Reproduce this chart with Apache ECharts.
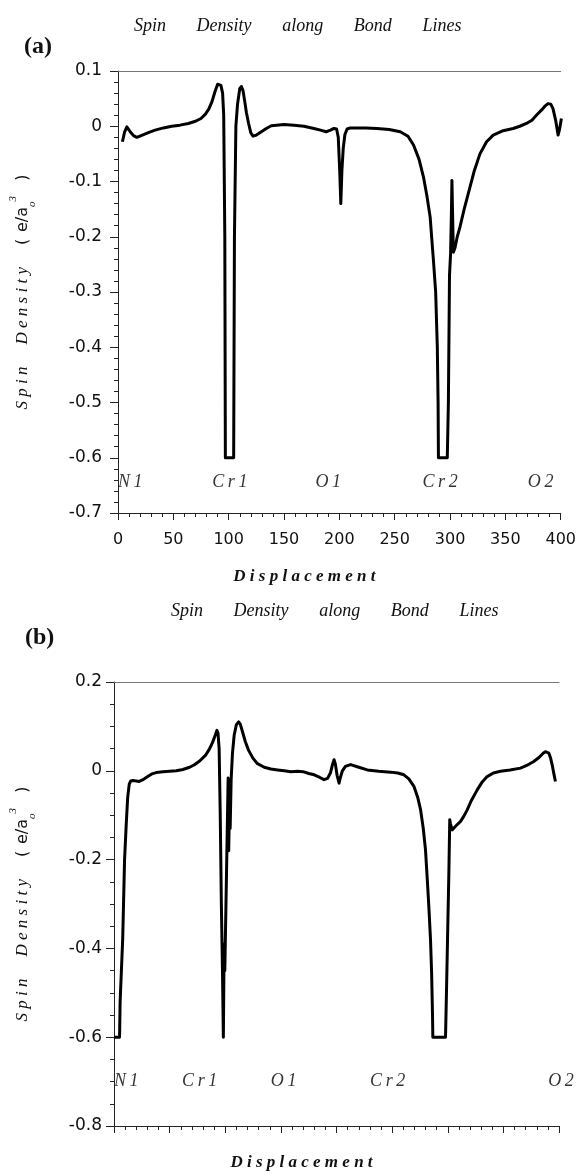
<!DOCTYPE html>
<html><head><meta charset="utf-8">
<script src="https://cdn.jsdelivr.net/npm/echarts@6/dist/echarts.min.js"></script>
<style>html,body{margin:0;padding:0;background:#fff}#c{width:579px;height:1174px}</style>
</head><body><div id="c"></div>
<script>
// ---------- Data ----------
// Panel (a)
const dispA = [4, 6, 8, 11, 14, 17, 22, 28, 33.5, 41, 48.5, 56, 63.5, 70, 75, 79, 82, 85, 87.5, 90, 91.5, 93, 94.5, 95.5, 96.5, 97, 104.5, 105.2, 106.5, 108, 110, 111.5, 113, 114.5, 116, 118, 120, 122, 125, 129.5, 134, 138.5, 150, 159, 168, 177, 183, 188, 192, 195, 197.5, 199, 200.3, 201.3, 202.3, 203.5, 205, 207, 210, 224, 234, 245, 255, 262, 267, 272, 276, 279, 282, 285, 287, 288.5, 289.2, 289.5, 297.5, 298.5, 299.5, 300.5, 301.2, 301.7, 302.3, 303, 304.5, 306.5, 309, 313, 318, 322, 327, 333, 339, 348, 357, 363, 369, 374, 378, 383, 386, 388.5, 391, 393, 395.5, 397.6, 399, 400.6];
const spinA = [-0.028, -0.01, -0.001, -0.01, -0.017, -0.02, -0.016, -0.011, -0.007, -0.003, 0, 0.002, 0.005, 0.009, 0.014, 0.022, 0.031, 0.045, 0.062, 0.076, 0.078, 0.074, 0.06, 0.02, -0.2, -0.6, -0.6, -0.2, 0.0, 0.04, 0.068, 0.072, 0.064, 0.045, 0.025, 0.005, -0.012, -0.018, -0.016, -0.01, -0.004, 0.001, 0.003, 0.002, 0.0, -0.004, -0.007, -0.01, -0.007, -0.004, -0.005, -0.02, -0.08, -0.14, -0.08, -0.04, -0.015, -0.005, -0.003, -0.003, -0.004, -0.006, -0.01, -0.018, -0.034, -0.06, -0.092, -0.125, -0.164, -0.243, -0.3, -0.4, -0.5, -0.6, -0.6, -0.5, -0.27, -0.23, -0.16, -0.098, -0.16, -0.228, -0.22, -0.2, -0.182, -0.148, -0.11, -0.08, -0.05, -0.028, -0.016, -0.008, -0.004, 0.0, 0.005, 0.011, 0.02, 0.03, 0.037, 0.041, 0.04, 0.032, 0.01, -0.016, -0.005, 0.014];

// Panel (b)
const dispB = [0, 5, 5.5, 7.8, 9.5, 11, 12.3, 13.7, 15, 17, 20, 22.7, 26, 30.3, 34, 38, 44, 50, 56, 62, 68, 72, 77, 82.6, 86, 88.6, 91, 92.5, 93.5, 94.5, 95.5, 96.5, 97.5, 98.3, 99, 99.6, 101, 102.6, 103.1, 103.8, 104.4, 105.3, 106.5, 108, 110, 112, 113.5, 115.5, 118, 121, 125, 129, 135, 141, 147, 153, 159, 165, 170, 175, 180, 185, 188.8, 192, 194.5, 196.5, 197.8, 199, 200.5, 202.3, 203.5, 205.3, 208, 212.7, 220, 227.7, 238, 248.7, 255, 260.6, 265, 269.6, 273, 275.6, 278, 280, 281.5, 283, 284.5, 285.5, 286.3, 286.6, 298, 299, 299.8, 301, 301.8, 302.5, 304, 307, 311.5, 314.5, 317.5, 321, 326.5, 331, 335.4, 341, 347.4, 356, 365.4, 371, 377.3, 382, 386, 387.8, 389.5, 390.8, 392.5, 393.8, 395.5, 396.8];
const spinB = [-0.6, -0.6, -0.52, -0.38, -0.2, -0.12, -0.06, -0.03, -0.023, -0.022, -0.023, -0.024, -0.02, -0.013, -0.007, -0.004, -0.002, -0.001, 0.0, 0.003, 0.008, 0.013, 0.022, 0.036, 0.05, 0.064, 0.08, 0.091, 0.085, 0.05, -0.1, -0.3, -0.45, -0.6, -0.39, -0.45, -0.25, -0.016, -0.18, -0.08, -0.13, -0.02, 0.04, 0.08, 0.104, 0.11, 0.105, 0.088, 0.066, 0.046, 0.028, 0.016, 0.008, 0.004, 0.002, 0.0, -0.002, -0.001, -0.002, -0.006, -0.009, -0.015, -0.02, -0.017, -0.005, 0.015, 0.025, 0.015, -0.01, -0.028, -0.015, 0.0, 0.01, 0.014, 0.008, 0.002, -0.001, -0.003, -0.005, -0.009, -0.018, -0.035, -0.06, -0.088, -0.13, -0.178, -0.24, -0.306, -0.38, -0.456, -0.55, -0.6, -0.6, -0.48, -0.38, -0.23, -0.11, -0.12, -0.133, -0.125, -0.114, -0.102, -0.088, -0.068, -0.043, -0.025, -0.013, -0.005, -0.001, 0.002, 0.006, 0.012, 0.021, 0.03, 0.04, 0.043, 0.043, 0.04, 0.028, 0.014, -0.008, -0.024];

// Atom labels along the bond path
const atomNames = ['N1', 'Cr1', 'O1', 'Cr2', 'O2'];
const atomPosA = [0, 101, 190, 291, 380];
const atomPosB = [0, 77, 152.5, 246, 400];
const atomRowA = -0.645;
const atomRowB = -0.70;

const titleText = 'Spin Density along Bond Lines';
const panelTags = ['(a)', '(b)'];
const xName = 'Displacement';

// ---------- Helpers ----------
const serif = "'Liberation Serif','Times New Roman',serif";
const sans = "'DejaVu Sans','Verdana',sans-serif";
const THIN = '\u2009', HAIR = '\u200a';
const spaced = (s, sep) => s.split('').join(sep);
const spacedTitle = titleText.split(' ').join('\u2003\u2002\u2009');

function pairs(xs, ys) { return xs.map((x, i) => [x, ys[i]]); }
function atomData(pos, row) {
  return atomNames.map((n, i) => ({
    value: [pos[i], row],
    name: n,
    label: i === 0 ? { align: 'left' } : (i === atomNames.length - 1 ? { align: 'center', offset: [2, 0] } : { align: 'center' })
  }));
}

const yNameRich = {
  it: { fontFamily: serif, fontStyle: 'italic', fontSize: 17, color: '#111', lineHeight: 30 },
  g: { width: 22, fontSize: 17, lineHeight: 30 },
  sf: { fontFamily: sans, fontSize: 16, color: '#111', lineHeight: 30 },
  sub: { fontFamily: serif, fontStyle: 'italic', fontSize: 11, color: '#111', lineHeight: 12, verticalAlign: 'bottom' },
  sup: { fontFamily: serif, fontStyle: 'italic', fontSize: 11, color: '#111', lineHeight: 12, verticalAlign: 'top' }
};
const yName = '{it|' + spaced('Spin', ' ') + '}{g| }{it|' + spaced('Density', ' ') + '}{g| }{sf|(' + HAIR + ' e/a}{sub|o}{sup|3}{sf|' + '   )}';

const axisLineStyle = { color: '#222', width: 1 };

function xAxes(gridIndex, showLabels, nameGap) {
  return [{
    type: 'value', gridIndex, min: 0, max: 400, interval: 50,
    axisLine: { show: true, onZero: false, lineStyle: axisLineStyle },
    axisTick: { show: true, length: 7, lineStyle: axisLineStyle },
    minorTick: { show: true, splitNumber: 5, length: 4, lineStyle: axisLineStyle },
    splitLine: { show: false },
    axisLabel: { show: showLabels, margin: 19, fontFamily: sans, fontSize: 16, color: '#111' },
    name: spaced(xName, ' '), nameLocation: 'middle', nameGap,
    nameTextStyle: { fontFamily: serif, fontStyle: 'italic', fontWeight: 'bold', fontSize: 17, color: '#111', padding: [0, 70, 0, 0] }
  }, {
    type: 'value', gridIndex, position: 'top', min: 0, max: 400,
    axisLine: { show: true, onZero: false, lineStyle: { color: '#777', width: 1 } },
    axisTick: { show: false }, axisLabel: { show: false }, splitLine: { show: false }
  }];
}

function yAxis(gridIndex, min, max, interval, minorSplit, margin, nameGap) {
  return {
    type: 'value', gridIndex, min, max, interval,
    axisLine: { show: true, onZero: false, lineStyle: axisLineStyle },
    axisTick: { show: true, length: 8, lineStyle: axisLineStyle },
    minorTick: { show: true, splitNumber: minorSplit, length: 4, lineStyle: axisLineStyle },
    splitLine: { show: false },
    axisLabel: { margin, fontFamily: sans, fontSize: 17, color: '#111',
      formatter: v => String(Math.round(v * 100) / 100) },
    name: yName, nameLocation: 'middle', nameRotate: 90, nameGap,
    nameTextStyle: { rich: yNameRich }
  };
}

const lineSeries = (data, xi, yi) => ({
  type: 'line', xAxisIndex: xi, yAxisIndex: yi, data, showSymbol: false, symbol: 'none',
  lineStyle: { color: '#000', width: 3, join: 'round' }, smooth: false, animation: false
});
const atomSeries = (data, xi, yi) => ({
  type: 'scatter', xAxisIndex: xi, yAxisIndex: yi, data, symbolSize: 0, animation: false,
  label: { show: true, position: 'inside', formatter: p => spaced(p.name, THIN),
    fontFamily: serif, fontStyle: 'italic', fontSize: 18, color: '#000' }
});

const chart = echarts.init(document.getElementById('c'));
chart.setOption({
  backgroundColor: '#fff',
  animation: false,
  title: [
    { text: spacedTitle, left: 129, top: 12, textStyle: { fontFamily: serif, fontStyle: 'italic', fontWeight: 'normal', fontSize: 18, color: '#111' } },
    { text: panelTags[0], left: 19, top: 30, textStyle: { fontFamily: serif, fontWeight: 'bold', fontSize: 24, color: '#111' } },
    { text: spacedTitle, left: 166, top: 597, textStyle: { fontFamily: serif, fontStyle: 'italic', fontWeight: 'normal', fontSize: 18, color: '#111' } },
    { text: panelTags[1], left: 20, top: 621, textStyle: { fontFamily: serif, fontWeight: 'bold', fontSize: 24, color: '#111' } }
  ],
  grid: [
    { left: 117, top: 71, width: 445, height: 442 },
    { left: 113, top: 682, width: 446, height: 444 }
  ],
  xAxis: [...xAxes(0, true, 55), ...xAxes(1, false, 28)],
  yAxis: [
    yAxis(0, -0.7, 0.1, 0.1, 5, 16, 80),
    yAxis(1, -0.8, 0.2, 0.2, 4, 12, 76)
  ],
  series: [
    lineSeries(pairs(dispA, spinA), 0, 0),
    atomSeries(atomData(atomPosA, atomRowA), 0, 0),
    lineSeries(pairs(dispB, spinB), 2, 1),
    atomSeries(atomData(atomPosB, atomRowB), 2, 1)
  ]
});
</script></body></html>
